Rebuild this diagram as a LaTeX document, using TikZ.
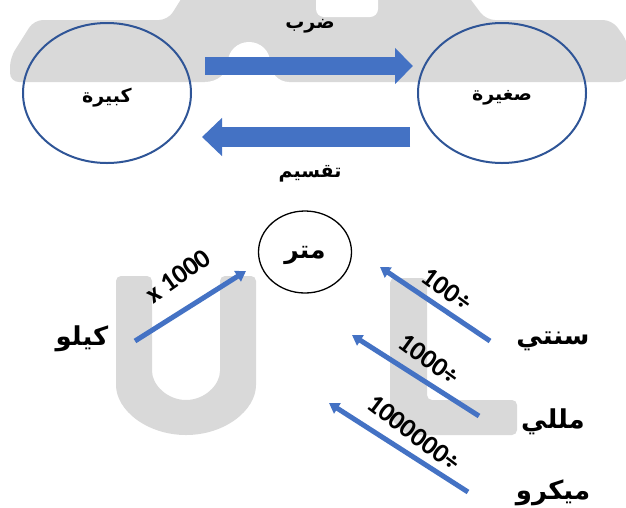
\documentclass[tikz,border=0pt]{standalone}
\usepackage{fontspec}
\usetikzlibrary{arrows.meta,shapes.geometric}
\TeXXeTstate=1
\newfontfamily\arabicfont[Script=Arabic]{DejaVu Sans}
\newfontfamily\numfont{Carlito}
\definecolor{wm}{HTML}{D9D9D9}
\definecolor{arrblue}{HTML}{4472C4}
\definecolor{ringblue}{HTML}{2F5597}
\tikzset{
  arlabel/.style={font=\arabicfont\bfseries\fontsize{26}{30}\selectfont, inner sep=0pt},
  toplabel/.style={font=\arabicfont\bfseries\fontsize{19}{22}\selectfont, inner sep=0pt},
  numlabel/.style={font=\numfont\bfseries\fontsize{27}{30}\selectfont, inner sep=0pt},
  bigarrow/.style={draw=arrblue, line width=#1},
  thinarrow/.style={draw=arrblue, line width=5pt, -{Triangle[width=12pt,length=10pt]}},
  ring/.style={ellipse, draw=ringblue, line width=2pt, inner sep=0pt},
}
\begin{document}
\begin{tikzpicture}[x=1pt,y=-1pt]
\useasboundingbox (0,0) rectangle (626,507);
\fill[white] (0,0) rectangle (626,507);
% watermark
\fill[wm, rounded corners=9] (10,82) -- (10,58) -- (34,20) -- (168,20) -- (188,-12) -- (462,-12) -- (486,20) -- (612,20) -- (628,42) -- (628,82) -- cycle;
\fill[white, rounded corners=8] (316,-20) rectangle (378,17);
\fill[white] (205,84) -- (205,82) to[out=0,in=-90] (228,62) arc[start angle=180,end angle=360,x radius=21,y radius=20] to[out=-90,in=180] (289,82) -- (289,84) -- cycle;
\fill[wm, rounded corners=5] (152,276) -- (152,366) arc[start angle=180,end angle=0,radius=34] -- (220,276) -- (256,276) -- (256,380) arc[start angle=0,end angle=180,x radius=70,y radius=55] -- (116,276) -- cycle;
\fill[wm, rounded corners=5] (390,278) -- (427,278) -- (427,400) -- (517,400) -- (517,435) -- (420,435) arc[start angle=90,end angle=180,radius=30] -- cycle;
% top part
\node[ring, minimum width=168pt, minimum height=140pt] (big) at (107,93) {};
\node[ring, minimum width=168pt, minimum height=140pt] (small) at (502,93) {};
\node[toplabel] (bigt) at (107,98) {\beginR كبيرة\endR};
\node[toplabel] (smallt) at (502,98) {\beginR صغيرة\endR};
\coordinate (m1) at (205,66);
\coordinate (m2) at (413,66);
\coordinate (d1) at (410,137);
\coordinate (d2) at (202,137);
\draw[bigarrow=18pt, -{Triangle[width=35pt,length=18pt]}] (m1) -- (m2);
\draw[bigarrow=20pt, -{Triangle[width=37pt,length=20pt]}] (d1) -- (d2);
\node[toplabel] (mul) at (310,26) {\beginR ضرب\endR};
\node[toplabel] (div) at (310,174) {\beginR تقسيم\endR};
% bottom part
\node[ellipse, draw=black, line width=1.3pt, minimum width=93pt, minimum height=82pt, inner sep=0pt] (meter) at (305,252) {};
\node[arlabel, font=\arabicfont\bfseries\fontsize{25}{30}\selectfont] (metert) at (305,255) {\beginR متر\endR};
\node[arlabel] (kilo) at (82,339) {\beginR كيلو\endR};
\node[arlabel] (centi) at (553,341) {\beginR سنتي\endR};
\node[arlabel] (milli) at (553,422) {\beginR مللي\endR};
\node[arlabel] (micro) at (553,493) {\beginR ميكرو\endR};
\coordinate (k1) at (135,341);
\coordinate (k2) at (246,271);
\coordinate (c1) at (490,341);
\coordinate (c2) at (380,267);
\coordinate (l1) at (479,416);
\coordinate (l2) at (352,335);
\coordinate (u1) at (468,492);
\coordinate (u2) at (329,403);
\draw[thinarrow] (k1) -- (k2);
\draw[thinarrow] (c1) -- (c2);
\draw[thinarrow] (l1) -- (l2);
\draw[thinarrow] (u1) -- (u2);
\node[numlabel, rotate=35] (kl) at (178,276) {x 1000};
\node[numlabel, rotate=-36] (cl) at (447,289) {100÷};
\node[numlabel, rotate=-36] (ll) at (429,359) {1000÷};
\node[numlabel, rotate=-37] (ul) at (414,433) {1000000÷};
\end{tikzpicture}
\end{document}
